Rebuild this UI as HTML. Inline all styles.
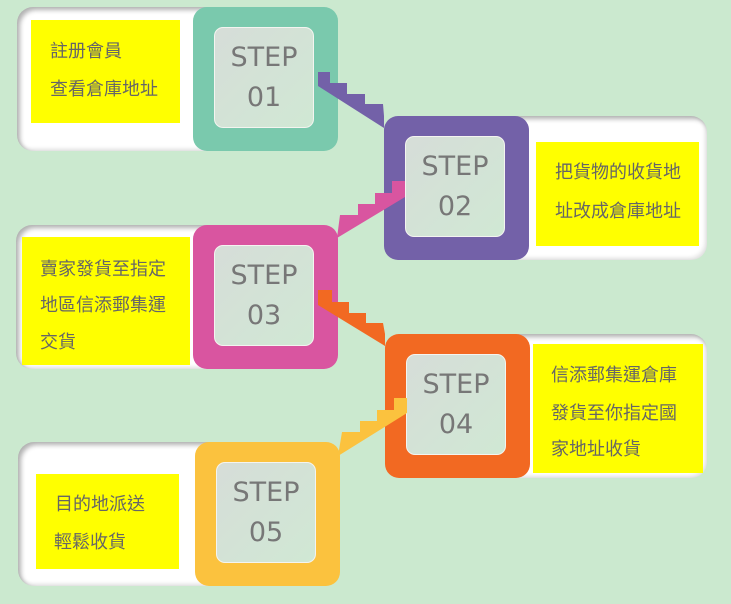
<!DOCTYPE html>
<html><head><meta charset="utf-8"><style>
body{margin:0;width:731px;height:604px;background:#cbe9cf;position:relative;overflow:hidden;font-family:"Liberation Sans","Noto Sans CJK TC",sans-serif}
.a{position:absolute}
.card{position:absolute;background:#fff;border-radius:16px;box-shadow:inset 3px 3px 5px rgba(0,0,0,.3),inset -2px -2px 4px rgba(0,0,0,.12)}
.y{position:absolute;background:#ff0;color:#666;font-size:18px}
.y div{position:absolute;white-space:nowrap}
.sq{position:absolute;width:145px;height:144px;border-radius:14px}
.in{position:absolute;left:21px;top:20px;width:100px;height:101px;border:1.5px solid #f4f4f0;border-radius:9px;background:linear-gradient(135deg,#d6ddd8,#d0e8d4);color:#777;font-size:27px;text-align:center;line-height:40px;box-sizing:border-box;padding-top:10px;font-family:"DejaVu Sans","Liberation Sans",sans-serif;font-weight:normal}
svg{z-index:5}
</style></head><body>

<div class="card" style="left:17px;top:7px;width:210px;height:144px"></div>
<div class="y" style="left:31px;top:20px;width:149px;height:103px"><div style="left:19px;top:17px">註册會員</div><div style="left:19px;top:55px">查看倉庫地址</div></div>
<div class="sq" style="left:193px;top:7px;background:#7ac9ad"><div class="in">STEP<br>01</div></div>

<div class="card" style="left:480px;top:116px;width:227px;height:144px"></div>
<div class="y" style="left:536px;top:142px;width:163px;height:104px"><div style="left:19px;top:16px">把貨物的收貨地</div><div style="left:19px;top:55px">址改成倉庫地址</div></div>
<div class="sq" style="left:384px;top:116px;background:#7361a8"><div class="in">STEP<br>02</div></div>

<div class="card" style="left:16px;top:225px;width:210px;height:144px"></div>
<div class="y" style="left:22px;top:237px;width:168px;height:128px"><div style="left:18px;top:18px">賣家發貨至指定</div><div style="left:18px;top:54px">地區信添郵集運</div><div style="left:18px;top:91px">交貨</div></div>
<div class="sq" style="left:193px;top:225px;background:#d955a0"><div class="in">STEP<br>03</div></div>

<div class="card" style="left:480px;top:334px;width:227px;height:144px"></div>
<div class="y" style="left:533px;top:344px;width:170px;height:129px"><div style="left:18px;top:17px">信添郵集運倉庫</div><div style="left:18px;top:55px">發貨至你指定國</div><div style="left:18px;top:91px">家地址收貨</div></div>
<div class="sq" style="left:385px;top:334px;background:#f26922"><div class="in">STEP<br>04</div></div>

<div class="card" style="left:18px;top:442px;width:210px;height:144px"></div>
<div class="y" style="left:36px;top:474px;width:143px;height:95px"><div style="left:19px;top:16px">目的地派送</div><div style="left:18px;top:54px">輕鬆收貨</div></div>
<div class="sq" style="left:195px;top:442px;background:#fbc23e"><div class="in">STEP<br>05</div></div>

<svg class="a" style="left:0;top:0" width="731" height="604">
<polygon fill="#7361a8" points="318,72 330,72 330,83 347,83 347,94 365,94 365,104 383,104 384,116 384,128 318,86"/>
<polygon fill="#d955a0" points="337,238 340,215 358,215 358,204 375,204 375,193 392,193 392,181 405,181 405,197"/>
<polygon fill="#f26922" points="318,290 332,290 332,302 349,302 349,313 366,313 366,323 383,323 385,334 385,346 318,305"/>
<polygon fill="#fbc23e" points="338,456 342,432 360,432 360,421 377,421 377,410 394,410 394,398 407,398 407,413"/>
</svg>
</body></html>
